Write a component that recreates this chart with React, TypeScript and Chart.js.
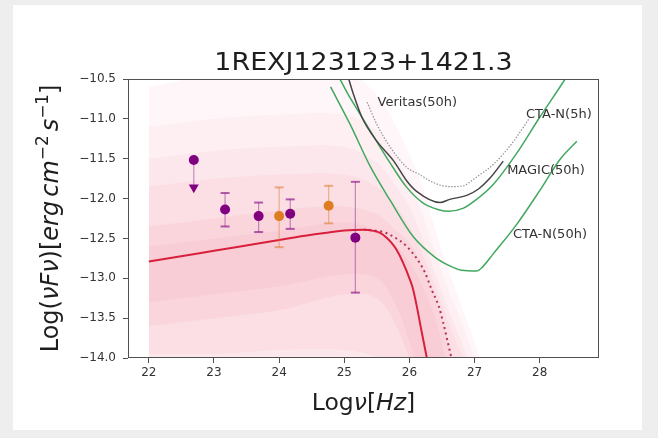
import React, { useEffect, useRef } from "react";
import { Chart, registerables } from "chart.js";

Chart.register(...registerables);

const TITLE = "1REXJ123123+1421.3";

// axis ranges and ticks
const X_MIN = 21.68;
const X_MAX = 28.91;
const Y_MIN = -14.0;
const Y_MAX = -10.5;
const X_TICKS = [22, 23, 24, 25, 26, 27, 28];
const Y_TICKS = [-14.0, -13.5, -13.0, -12.5, -12.0, -11.5, -11.0, -10.5];

// purple flux points with error ranges
const FLUX_X = [23.17, 23.685, 24.17, 25.17];
const FLUX_Y = [-12.137, -12.22, -12.19, -12.49];
const FLUX_HI = [-11.93, -12.05, -12.01, -11.79];
const FLUX_LO = [-12.35, -12.42, -12.38, -13.18];

// orange flux points with error ranges
const FLUX2_X = [24.0, 24.76];
const FLUX2_Y = [-12.22, -12.09];
const FLUX2_HI = [-11.86, -11.84];
const FLUX2_LO = [-12.61, -12.31];

// upper limit
const UL_X = [22.69];
const UL_Y = [-11.516];
const UL_ARROW_Y = [-11.86];

// absorbed model (solid)
const MODEL_X = [22, 23, 24, 24.5, 25.0, 25.3, 25.45, 25.55, 25.65, 25.72, 25.8, 25.9, 26.0, 26.05, 26.12, 26.19, 26.28];
const MODEL_Y = [-12.79, -12.655, -12.52, -12.455, -12.4, -12.39, -12.405, -12.43, -12.49, -12.55, -12.64, -12.8, -13.0, -13.12, -13.38, -13.68, -14.05];

// intrinsic model (dotted)
const INTR_X = [25.3, 25.45, 25.6, 25.76, 25.96, 26.11, 26.24, 26.34, 26.45, 26.52, 26.58, 26.65];
const INTR_Y = [-12.39, -12.4, -12.42, -12.48, -12.6, -12.75, -12.93, -13.14, -13.35, -13.56, -13.77, -14.02];

// model uncertainty bands, from widest to narrowest
const BAND_X = [22, 23, 24, 25, 25.5, 25.8, 26.0, 26.2, 26.4, 26.6, 26.8, 27.0, 27.2];
const BAND_FLOOR = [-14.3, -14.3, -14.3, -14.3, -14.3, -14.3, -14.3, -14.3, -14.3, -14.3, -14.3, -14.3, -14.3];
const BAND1_HI = [-10.6, -10.45, -10.4, -10.4, -10.7, -11.1, -11.45, -11.85, -12.4, -12.9, -13.35, -13.8, -14.3];
const BAND2_HI = [-11.1, -11.0, -10.95, -10.95, -11.15, -11.5, -11.8, -12.2, -12.7, -13.15, -13.55, -14.0, -14.3];
const BAND3_HI = [-11.5, -11.4, -11.35, -11.35, -11.55, -11.85, -12.1, -12.5, -12.95, -13.4, -13.8, -14.2, -14.3];
const BAND4_HI = [-11.85, -11.75, -11.7, -11.7, -11.85, -12.1, -12.35, -12.7, -13.1, -13.55, -13.95, -14.3, -14.3];
const BAND4_LO = [-13.95, -13.95, -13.9, -13.9, -14.0, -14.3, -14.3, -14.3, -14.3, -14.3, -14.3, -14.3, -14.3];
const BAND5_HI = [-12.35, -12.25, -12.15, -12.1, -12.2, -12.4, -12.55, -12.85, -13.25, -13.8, -14.3, -14.3, -14.3];
const BAND5_LO = [-13.6, -13.5, -13.4, -13.2, -13.25, -13.6, -14.0, -14.3, -14.3, -14.3, -14.3, -14.3, -14.3];
const BAND6_HI = [-12.6, -12.5, -12.4, -12.3, -12.4, -12.6, -12.8, -13.1, -13.5, -14.1, -14.3, -14.3, -14.3];
const BAND6_LO = [-13.3, -13.2, -13.1, -12.95, -13.0, -13.35, -13.8, -14.3, -14.3, -14.3, -14.3, -14.3, -14.3];

// instrument sensitivity curves
const CTA50_X = [24.79, 25.09, 25.4, 25.71, 26.06, 26.4, 26.66, 26.8, 27.03, 27.12, 27.28, 27.65, 28.0, 28.31, 28.57];
const CTA50_Y = [-10.6, -11.07, -11.6, -12.03, -12.48, -12.74, -12.86, -12.9, -12.91, -12.86, -12.7, -12.32, -11.9, -11.51, -11.28];
const CTA5_X = [24.9, 25.05, 25.25, 25.45, 25.7, 25.95, 26.2, 26.45, 26.6, 26.83, 27.0, 27.29, 27.64, 28.0, 28.39, 28.45];
const CTA5_Y = [-10.45, -10.68, -10.95, -11.22, -11.55, -11.85, -12.05, -12.14, -12.16, -12.12, -12.03, -11.82, -11.44, -10.98, -10.5, -10.42];
const MAGIC_X = [25.05, 25.14, 25.27, 25.5, 25.76, 25.96, 26.11, 26.47, 26.62, 26.88, 27.06, 27.24, 27.44];
const MAGIC_Y = [-10.45, -10.69, -10.98, -11.28, -11.53, -11.78, -11.91, -12.05, -12.01, -11.96, -11.88, -11.74, -11.53];
const VERITAS_X = [25.35, 25.5, 25.71, 25.96, 26.16, 26.32, 26.47, 26.62, 26.83, 26.93, 27.05, 27.29, 27.6, 27.85];
const VERITAS_Y = [-10.79, -11.07, -11.36, -11.61, -11.7, -11.78, -11.83, -11.85, -11.84, -11.79, -11.72, -11.57, -11.28, -10.98];

// curve labels
const CURVE_LABELS = ["Veritas(50h)", "CTA-N(5h)", "MAGIC(50h)", "CTA-N(50h)"];
const CURVE_LABEL_X = [25.51, 27.79, 27.5, 27.59];
const CURVE_LABEL_Y = [-10.8, -10.95, -11.65, -12.45];

const FONT = '"DejaVu Sans", "Liberation Sans", sans-serif';

const pts = (xs: number[], ys: number[]) => xs.map((x, i) => ({ x, y: ys[i] }));

const stems = (xs: number[], lo: number[], hi: number[]) => {
  const out: { x: number; y: number | null }[] = [];
  xs.forEach((x, i) => {
    out.push({ x, y: lo[i] }, { x, y: hi[i] }, { x, y: null });
  });
  return out;
};

const caps = (xs: number[], lo: number[], hi: number[]) => {
  const out: { x: number; y: number }[] = [];
  xs.forEach((x, i) => {
    out.push({ x, y: lo[i] }, { x, y: hi[i] });
  });
  return out;
};

const band = (lo: number[], hi: number[], alpha: number) => [
  {
    data: pts(BAND_X, lo),
    borderWidth: 0,
    pointRadius: 0,
    fill: false,
    tension: 0.35,
  },
  {
    data: pts(BAND_X, hi),
    borderWidth: 0,
    pointRadius: 0,
    fill: "-1",
    backgroundColor: `rgba(242, 130, 158, ${alpha})`,
    tension: 0.35,
  },
];

const curve = (xs: number[], ys: number[], color: string, width: number, dash: number[] = []) => ({
  data: pts(xs, ys),
  borderColor: color,
  borderWidth: width,
  borderDash: dash,
  pointRadius: 0,
  fill: false,
  cubicInterpolationMode: "monotone" as const,
});

// page background with white panel
const backgroundPlugin = {
  id: "panelBackground",
  beforeDraw(chart: Chart) {
    const ctx = chart.ctx;
    ctx.save();
    ctx.fillStyle = "#eeeeee";
    ctx.fillRect(0, 0, chart.width, chart.height);
    ctx.fillStyle = "#ffffff";
    ctx.fillRect(13, 5, 629, 425);
    ctx.restore();
  },
};

type Seg = { t: string; it?: boolean; sup?: boolean; gap?: number };

const drawSegments = (ctx: CanvasRenderingContext2D, segs: Seg[], size: number) => {
  const fontFor = (s: Seg) => `${s.it ? "italic " : ""}${s.sup ? size * 0.7 : size}px ${FONT}`;
  let total = 0;
  const widths = segs.map((s) => {
    ctx.font = fontFor(s);
    const w = ctx.measureText(s.t).width + (s.gap || 0) * size;
    total += w;
    return w;
  });
  let x = -total / 2;
  segs.forEach((s, i) => {
    ctx.font = fontFor(s);
    ctx.fillText(s.t, x, s.sup ? -size * 0.42 : 0);
    x += widths[i];
  });
};

const textPlugin = {
  id: "sedText",
  afterDatasetsDraw(chart: Chart) {
    const { ctx, chartArea } = chart;
    ctx.save();
    ctx.strokeStyle = "#505050";
    ctx.lineWidth = 1;
    ctx.strokeRect(chartArea.left + 0.5, chartArea.top + 0.5, chartArea.right - chartArea.left - 1, chartArea.bottom - chartArea.top - 1);
    ctx.restore();
  },
  afterDraw(chart: Chart) {
    const { ctx, chartArea } = chart;
    const xs = chart.scales.x;
    const ys = chart.scales.y;
    const cx = (chartArea.left + chartArea.right) / 2;
    ctx.save();
    ctx.fillStyle = "#1e1e1e";
    ctx.textBaseline = "alphabetic";

    // title
    ctx.save();
    ctx.translate(cx, 70);
    ctx.scale(1.12, 1);
    ctx.textAlign = "center";
    ctx.font = `24px ${FONT}`;
    ctx.fillText(TITLE, 0, 0);
    ctx.restore();

    // x axis label
    ctx.save();
    ctx.translate(cx, 410);
    ctx.textAlign = "left";
    drawSegments(
      ctx,
      [{ t: "Log" }, { t: "\u03BD", it: true }, { t: "[" }, { t: "Hz", it: true }, { t: "]" }],
      23.5
    );
    ctx.restore();

    // y axis label
    ctx.save();
    ctx.translate(58, (chartArea.top + chartArea.bottom) / 2);
    ctx.rotate(-Math.PI / 2);
    ctx.textAlign = "left";
    drawSegments(
      ctx,
      [
        { t: "Log(" },
        { t: "\u03BDF\u03BD", it: true },
        { t: ")[" },
        { t: "erg", it: true, gap: 0.17 },
        { t: "cm", it: true },
        { t: "\u22122", sup: true, gap: 0.17 },
        { t: "s", it: true },
        { t: "\u22121", sup: true },
        { t: "]" },
      ],
      24
    );
    ctx.restore();

    // sensitivity curve labels
    ctx.fillStyle = "#333333";
    ctx.font = `13px ${FONT}`;
    ctx.textAlign = "left";
    ctx.textBaseline = "middle";
    CURVE_LABELS.forEach((t, i) => {
      ctx.fillText(t, xs.getPixelForValue(CURVE_LABEL_X[i]), ys.getPixelForValue(CURVE_LABEL_Y[i]));
    });
    ctx.restore();
  },
};

export default function App() {
  const ref = useRef<HTMLCanvasElement | null>(null);

  useEffect(() => {
    if (!ref.current) return;
    const purple = "#800080";
    const orange = "#df7d22";

    const datasets: any[] = [
      ...band(BAND_FLOOR, BAND1_HI, 0.07),
      ...band(BAND_FLOOR, BAND2_HI, 0.06),
      ...band(BAND_FLOOR, BAND3_HI, 0.06),
      ...band(BAND4_LO, BAND4_HI, 0.09),
      ...band(BAND5_LO, BAND5_HI, 0.1),
      ...band(BAND6_LO, BAND6_HI, 0.09),
      curve(CTA50_X, CTA50_Y, "#41a85f", 1.5),
      curve(CTA5_X, CTA5_Y, "#41a85f", 1.5),
      curve(MAGIC_X, MAGIC_Y, "#454545", 1.5),
      curve(VERITAS_X, VERITAS_Y, "#949494", 1.2, [1.5, 1.5]),
      curve(INTR_X, INTR_Y, "#b3335a", 2, [2, 3.5]),
      curve(MODEL_X, MODEL_Y, "#d8203c", 2),
      {
        data: stems(FLUX_X, FLUX_LO, FLUX_HI),
        borderColor: "rgba(150, 60, 150, 0.55)",
        borderWidth: 1.2,
        pointRadius: 0,
        fill: false,
        spanGaps: false,
      },
      {
        data: stems(FLUX2_X, FLUX2_LO, FLUX2_HI),
        borderColor: "rgba(220, 130, 50, 0.5)",
        borderWidth: 1.2,
        pointRadius: 0,
        fill: false,
        spanGaps: false,
      },
      {
        data: stems(UL_X, UL_ARROW_Y, UL_Y),
        borderColor: "rgba(150, 60, 150, 0.55)",
        borderWidth: 1.2,
        pointRadius: 0,
        fill: false,
        spanGaps: false,
      },
      {
        data: caps(FLUX_X, FLUX_LO, FLUX_HI),
        showLine: false,
        pointStyle: "line",
        pointRadius: 4.5,
        pointBorderWidth: 2,
        pointBorderColor: "rgba(128, 0, 128, 0.6)",
      },
      {
        data: caps(FLUX2_X, FLUX2_LO, FLUX2_HI),
        showLine: false,
        pointStyle: "line",
        pointRadius: 4.5,
        pointBorderWidth: 2,
        pointBorderColor: "rgba(220, 120, 40, 0.55)",
      },
      {
        data: pts(UL_X, UL_ARROW_Y),
        showLine: false,
        pointStyle: "triangle",
        pointRadius: 5.8,
        pointBorderWidth: 0,
        pointBackgroundColor: purple,
        pointRotation: 180,
      },
      {
        data: pts(UL_X, UL_Y),
        showLine: false,
        pointRadius: 5,
        pointBorderWidth: 0,
        pointBackgroundColor: purple,
      },
      {
        data: pts(FLUX_X, FLUX_Y),
        showLine: false,
        pointRadius: 5,
        pointBorderWidth: 0,
        pointBackgroundColor: purple,
      },
      {
        data: pts(FLUX2_X, FLUX2_Y),
        showLine: false,
        pointRadius: 5,
        pointBorderWidth: 0,
        pointBackgroundColor: orange,
      },
    ];
    const n = datasets.length;
    datasets.forEach((d, i) => {
      d.order = n - i;
    });

    const tickFont = { family: FONT, size: 12 };
    const chart = new Chart(ref.current, {
      type: "line",
      data: { datasets },
      options: {
        animation: false,
        responsive: false,
        devicePixelRatio: 1,
        layout: { padding: { left: 0, top: 79, right: 59, bottom: 0 } },
        plugins: {
          legend: { display: false },
          tooltip: { enabled: false },
          title: { display: false },
        },
        scales: {
          x: {
            type: "linear",
            min: X_MIN,
            max: X_MAX,
            afterBuildTicks: (s: any) => {
              s.ticks = X_TICKS.map((v) => ({ value: v }));
            },
            afterFit: (s: any) => {
              s.height = 80;
            },
            grid: { drawOnChartArea: false, drawTicks: true, tickLength: 5, color: "#505050" },
            border: { display: false },
            ticks: {
              font: tickFont,
              color: "#333333",
              padding: 3,
              autoSkip: false,
              maxRotation: 0,
              callback: (v: any) => String(v),
            },
          },
          y: {
            type: "linear",
            min: Y_MIN,
            max: Y_MAX,
            afterBuildTicks: (s: any) => {
              s.ticks = Y_TICKS.map((v) => ({ value: v }));
            },
            afterFit: (s: any) => {
              s.width = 128;
            },
            grid: { drawOnChartArea: false, drawTicks: true, tickLength: 5, color: "#505050" },
            border: { display: false },
            ticks: {
              font: tickFont,
              color: "#333333",
              padding: 7,
              autoSkip: false,
              callback: (v: any) => Number(v).toFixed(1).replace("-", "\u2212"),
            },
          },
        },
      },
      plugins: [backgroundPlugin, textPlugin],
    });
    return () => chart.destroy();
  }, []);

  return (
    <div style={{ position: "fixed", left: 0, top: 0, width: 658, height: 438, background: "#eeeeee" }}>
      <canvas ref={ref} width={658} height={438} style={{ display: "block", width: 658, height: 438 }} />
    </div>
  );
}
